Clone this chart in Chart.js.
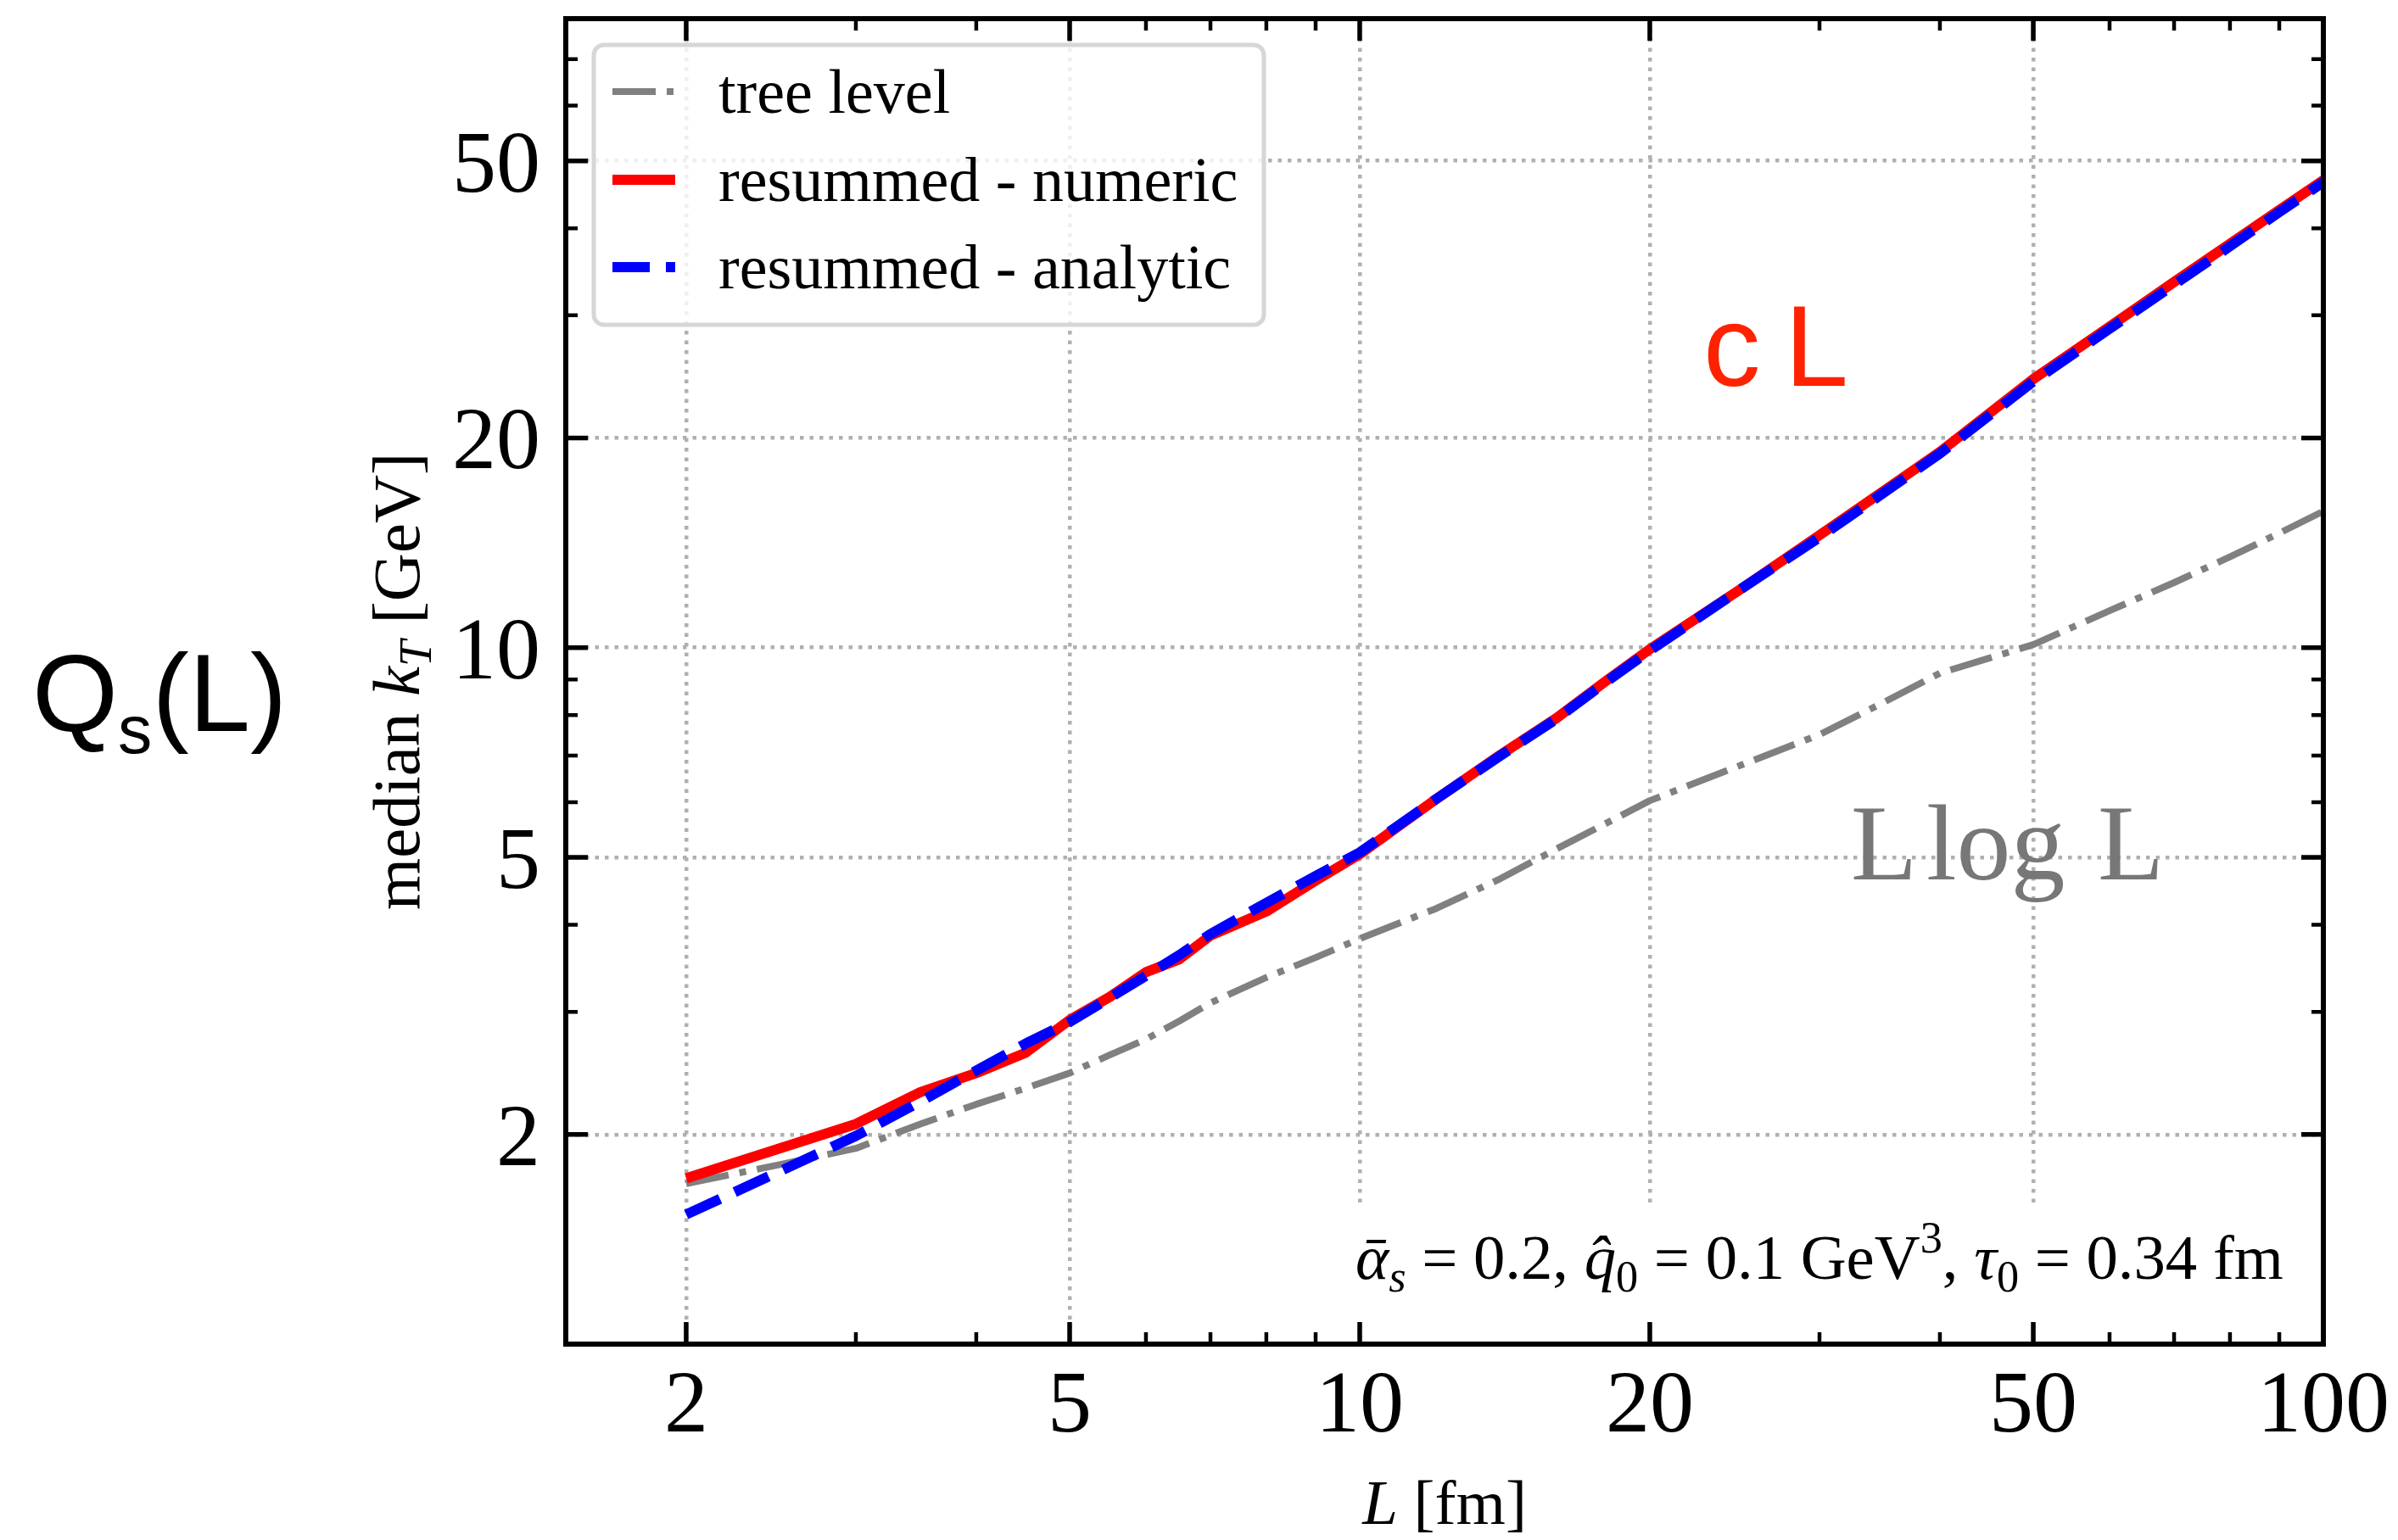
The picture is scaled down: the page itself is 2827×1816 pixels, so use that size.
<!DOCTYPE html>
<html>
<head>
<meta charset="utf-8">
<script src="https://cdn.jsdelivr.net/npm/chart.js@4.4.1/dist/chart.umd.min.js"></script>
<style>
  html, body { margin: 0; padding: 0; background: #fff; }
  canvas { display: block; }
</style>
</head>
<body>
<canvas id="kt" width="2827" height="1816"></canvas>
<script>
// path length L [fm] and median kT [GeV] of the three curves
const lengths = [2, 2.5, 3, 3.5, 4, 4.5, 5, 5.5, 6, 6.5, 7, 8, 9, 10, 12, 14, 16, 18, 20, 25, 30, 35, 40, 50, 60, 70, 80, 90, 100];
const treeLevel = [1.70, 1.81, 1.91, 2.07, 2.21, 2.33, 2.45, 2.60, 2.74, 2.91, 3.09, 3.36, 3.59, 3.82, 4.22, 4.66, 5.14, 5.59, 6.03, 6.80, 7.50, 8.35, 9.19, 10.1, 11.3, 12.4, 13.5, 14.6, 15.7];
const resummedNumeric = [1.73, 1.91, 2.07, 2.30, 2.45, 2.62, 2.92, 3.15, 3.42, 3.57, 3.86, 4.18, 4.63, 5.05, 6.06, 7.02, 7.92, 8.95, 9.95, 12.2, 14.5, 16.8, 19.1, 24.3, 28.9, 33.5, 38.0, 42.5, 46.9];
const resummedAnalytic = [1.535, 1.77, 1.99, 2.23, 2.47, 2.70, 2.90, 3.14, 3.38, 3.62, 3.88, 4.30, 4.70, 5.08, 6.06, 7.0, 7.9, 8.92, 9.9, 12.2, 14.4, 16.7, 19.0, 24.1, 28.7, 33.2, 37.7, 42.2, 46.6];

const xMajor = [2, 5, 10, 20, 50, 100];
const xMinor = [3, 4, 6, 7, 8, 9, 30, 40, 60, 70, 80, 90];
const yMajor = [2, 5, 10, 20, 50];
const yMinor = [3, 4, 6, 7, 8, 9, 30, 40, 60, 70];
const xTickLabels = ['2', '5', '10', '20', '50', '100'];
const yTickLabels = ['2', '5', '10', '20', '50'];

const SERIF = '"Liberation Serif", "DejaVu Serif", serif';
const SANS = '"Liberation Sans", Arial, sans-serif';

function pts(ys) {
  return lengths.map((x, i) => ({ x: x, y: ys[i] }));
}

// text made of runs: italic / sub / superscript pieces
function runFont(r, size, fam) {
  return (r.it ? 'italic ' : '') + (size * (r.s || 1)) + 'px ' + (fam || SERIF);
}
function runsWidth(ctx, runs, size, fam) {
  let w = 0;
  for (const r of runs) {
    ctx.font = runFont(r, size, fam);
    w += ctx.measureText(r.t).width;
  }
  return w;
}
function drawRuns(ctx, runs, x, y, size, fam) {
  let cx = x;
  for (const r of runs) {
    ctx.font = runFont(r, size, fam);
    ctx.fillText(r.t, cx, y + (r.dy || 0) * size);
    cx += ctx.measureText(r.t).width;
  }
}

const legendItems = [
  { label: 'tree level', color: '#808080', width: 8, dash: [51, 13, 8, 13] },
  { label: 'resummed - numeric', color: '#ff0000', width: 12, dash: [] },
  { label: 'resummed - analytic', color: '#0000ff', width: 12, dash: [44, 19] }
];

const frame = {
  id: 'frame',
  beforeDatasetsDraw(chart) {
    // white background of the parameter text hides the grid below it
    const ctx = chart.ctx;
    ctx.save();
    ctx.fillStyle = '#fff';
    ctx.fillRect(1570, 1420, 1150, 137);
    ctx.restore();
  },
  afterDraw(chart) {
    const { ctx, chartArea: a, scales: { x, y } } = chart;
    ctx.save();
    ctx.strokeStyle = '#000';
    ctx.setLineDash([]);

    // inward ticks on all four sides
    function xticks(vals, len, w) {
      ctx.lineWidth = w;
      ctx.beginPath();
      for (const v of vals) {
        const px = x.getPixelForValue(v);
        ctx.moveTo(px, a.bottom); ctx.lineTo(px, a.bottom - len);
        ctx.moveTo(px, a.top); ctx.lineTo(px, a.top + len);
      }
      ctx.stroke();
    }
    function yticks(vals, len, w) {
      ctx.lineWidth = w;
      ctx.beginPath();
      for (const v of vals) {
        const py = y.getPixelForValue(v);
        ctx.moveTo(a.left, py); ctx.lineTo(a.left + len, py);
        ctx.moveTo(a.right, py); ctx.lineTo(a.right - len, py);
      }
      ctx.stroke();
    }
    xticks(xMajor, 26, 5.5);
    xticks(xMinor, 14, 4.5);
    yticks(yMajor, 26, 5.5);
    yticks(yMinor, 14, 4.5);

    ctx.lineWidth = 6;
    ctx.strokeRect(a.left, a.top, a.right - a.left, a.bottom - a.top);

    // tick labels
    ctx.fillStyle = '#000';
    ctx.font = '104px ' + SERIF;
    ctx.textBaseline = 'alphabetic';
    ctx.textAlign = 'center';
    xMajor.forEach((v, i) => ctx.fillText(xTickLabels[i], x.getPixelForValue(v), 1688));
    ctx.textAlign = 'right';
    yMajor.forEach((v, i) => ctx.fillText(yTickLabels[i], 637, y.getPixelForValue(v) + 36));

    // axis titles
    ctx.textAlign = 'left';
    const xt = [{ t: 'L', it: 1 }, { t: ' [fm]' }];
    const xw = runsWidth(ctx, xt, 75);
    drawRuns(ctx, xt, (a.left + a.right) / 2 - xw / 2, 1797, 75);

    const yt = [{ t: 'median ' }, { t: 'k', it: 1 }, { t: 'T', it: 1, s: 0.7, dy: 0.18 }, { t: ' [GeV]' }];
    ctx.save();
    ctx.translate(470, (a.top + a.bottom) / 2);
    ctx.rotate(-Math.PI / 2);
    const yw = runsWidth(ctx, yt, 79);
    drawRuns(ctx, yt, -yw / 2, 0.3 * 79, 79);
    ctx.restore();

    // big left label
    drawRuns(ctx, [{ t: 'Q' }, { t: 's', s: 0.62, dy: 0.2 }, { t: '(L)' }], 38, 862, 130, SANS);

    // scaling annotations
    ctx.fillStyle = '#ff2200';
    ctx.font = '135px ' + SANS;
    ctx.fillText('c', 2008, 455);
    ctx.fillText('L', 2104, 455);

    ctx.fillStyle = '#777777';
    ctx.font = '128px ' + SERIF;
    ctx.fillText('L', 2182, 1037);
    ctx.fillText('log', 2271, 1037);
    ctx.fillText('L', 2473, 1037);

    // parameters
    ctx.fillStyle = '#000';
    const par = [
      { t: 'ᾱ', it: 1 }, { t: 's', it: 1, s: 0.7, dy: 0.2 }, { t: ' = 0.2, ' },
      { t: 'q̂', it: 1 }, { t: '0', s: 0.7, dy: 0.2 }, { t: ' = 0.1 GeV' },
      { t: '3', s: 0.7, dy: -0.42 }, { t: ', ' },
      { t: 'τ', it: 1 }, { t: '0', s: 0.7, dy: 0.2 }, { t: ' = 0.34 fm' }
    ];
    const pw = runsWidth(ctx, par, 60);
    const ps = 60 * 1094 / pw;
    drawRuns(ctx, par, 1598, 1508, ps);

    // legend
    const bx = 700, by = 53, bw = 790, bh = 330, r = 12;
    ctx.beginPath();
    ctx.moveTo(bx + r, by);
    ctx.arcTo(bx + bw, by, bx + bw, by + bh, r);
    ctx.arcTo(bx + bw, by + bh, bx, by + bh, r);
    ctx.arcTo(bx, by + bh, bx, by, r);
    ctx.arcTo(bx, by, bx + bw, by, r);
    ctx.closePath();
    ctx.fillStyle = 'rgba(255,255,255,0.8)';
    ctx.fill();
    ctx.lineWidth = 5;
    ctx.strokeStyle = '#d6d6d6';
    ctx.stroke();

    const rowY = [108, 212, 315];
    legendItems.forEach((it, i) => {
      ctx.beginPath();
      ctx.setLineDash(it.dash);
      ctx.lineWidth = it.width;
      ctx.strokeStyle = it.color;
      ctx.moveTo(722, rowY[i]);
      ctx.lineTo(796, rowY[i]);
      ctx.stroke();
      ctx.setLineDash([]);
      ctx.fillStyle = '#000';
      ctx.font = '74px ' + SERIF;
      ctx.fillText(it.label, 847, rowY[i] + 25);
    });
    ctx.restore();
  }
};

const gridOpts = { color: '#b0b0b0', lineWidth: 4.5, drawTicks: false };
const borderOpts = { display: false, dash: [4.5, 7] };

new Chart(document.getElementById('kt'), {
  type: 'line',
  data: {
    datasets: [
      { label: legendItems[0].label, data: pts(treeLevel), borderColor: legendItems[0].color,
        borderWidth: legendItems[0].width, borderDash: legendItems[0].dash, order: 3 },
      { label: legendItems[1].label, data: pts(resummedNumeric), borderColor: legendItems[1].color,
        borderWidth: legendItems[1].width, order: 2 },
      { label: legendItems[2].label, data: pts(resummedAnalytic), borderColor: legendItems[2].color,
        borderWidth: legendItems[2].width, borderDash: legendItems[2].dash, order: 1 }
    ]
  },
  options: {
    responsive: false,
    animation: false,
    devicePixelRatio: 1,
    layout: { padding: { left: 0, right: 88, top: 22, bottom: 0 } },
    elements: {
      point: { radius: 0 },
      line: { tension: 0, fill: false, borderJoinStyle: 'round' }
    },
    plugins: { legend: { display: false }, tooltip: { enabled: false } },
    scales: {
      x: {
        type: 'logarithmic', min: 1.5, max: 100,
        afterBuildTicks: s => { s.ticks = xMajor.map(v => ({ value: v })); },
        afterFit: s => { s.height = 231; },
        ticks: { display: false },
        grid: gridOpts, border: borderOpts
      },
      y: {
        type: 'logarithmic', min: 1, max: 80,
        afterBuildTicks: s => { s.ticks = yMajor.map(v => ({ value: v })); },
        afterFit: s => { s.width = 667; },
        ticks: { display: false },
        grid: gridOpts, border: borderOpts
      }
    }
  },
  plugins: [frame]
});
</script>
</body>
</html>
